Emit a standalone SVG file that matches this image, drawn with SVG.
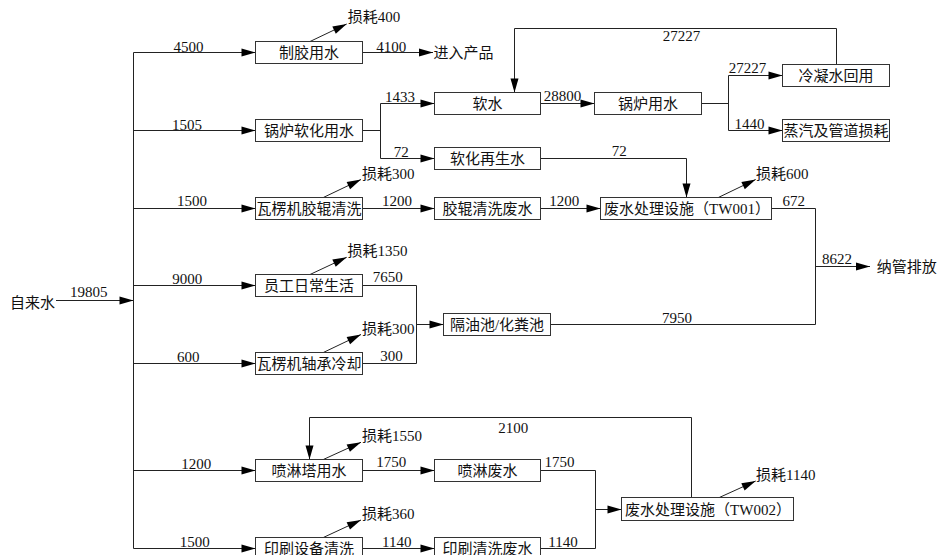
<svg xmlns="http://www.w3.org/2000/svg" width="941" height="555" viewBox="0 0 941 555">
<style>
.bg{fill:#fff}
.box{fill:#fff;stroke:#333;stroke-width:1}
.c{fill:none;stroke:#222;stroke-width:1}
.t{font-family:"Liberation Serif","Noto Sans CJK SC",serif;font-size:15px;fill:#111}
.m{text-anchor:middle}
</style>
<defs>
<marker id="ah" markerUnits="userSpaceOnUse" markerWidth="14" markerHeight="8" refX="14" refY="4" orient="auto" overflow="visible">
<path d="M0,0 L14,4 L0,8 z" fill="#000"/>
</marker>
</defs>
<rect class="bg" x="0" y="0" width="941" height="555"/>
<g id="connectors">
<path class="c" d="M56,300.5 H133.5" marker-end="url(#ah)"/>
<path class="c" d="M133.5,52.5 V548.5"/>
<path class="c" d="M133.5,52.5 H255.5" marker-end="url(#ah)"/>
<path class="c" d="M133.5,130.5 H255.5" marker-end="url(#ah)"/>
<path class="c" d="M133.5,208.5 H255.5" marker-end="url(#ah)"/>
<path class="c" d="M133.5,285.5 H255.5" marker-end="url(#ah)"/>
<path class="c" d="M133.5,363.5 H255.5" marker-end="url(#ah)"/>
<path class="c" d="M133.5,470.5 H255.5" marker-end="url(#ah)"/>
<path class="c" d="M133.5,548.5 H255.5" marker-end="url(#ah)"/>
<path class="c" d="M362.5,52.5 H433" marker-end="url(#ah)"/>
<path class="c" d="M362.5,130.5 H380.5 M380.5,103.5 V158.5"/>
<path class="c" d="M380.5,103.5 H434.5" marker-end="url(#ah)"/>
<path class="c" d="M380.5,158.5 H434.5" marker-end="url(#ah)"/>
<path class="c" d="M540.5,103.5 H594.5" marker-end="url(#ah)"/>
<path class="c" d="M701.5,103.5 H728.5 M728.5,75.5 V130.5"/>
<path class="c" d="M728.5,75.5 H782.5" marker-end="url(#ah)"/>
<path class="c" d="M728.5,130.5 H782.5" marker-end="url(#ah)"/>
<path class="c" d="M836.5,64.5 V28.5 H514.5 V92.5" marker-end="url(#ah)"/>
<path class="c" d="M540.5,158.5 H686.5 V197.5" marker-end="url(#ah)"/>
<path class="c" d="M362.5,208.5 H434.5" marker-end="url(#ah)"/>
<path class="c" d="M540.5,208.5 H600.5" marker-end="url(#ah)"/>
<path class="c" d="M771.5,208.5 H815.5 V324.5 H550.5"/>
<path class="c" d="M815.5,266.5 H870" marker-end="url(#ah)"/>
<path class="c" d="M362.5,285.5 H416.5 V363.5 H362.5"/>
<path class="c" d="M416.5,324.5 H443.5" marker-end="url(#ah)"/>
<path class="c" d="M691.5,497.5 V417.5 H309.5 V459.5" marker-end="url(#ah)"/>
<path class="c" d="M362.5,470.5 H434.5" marker-end="url(#ah)"/>
<path class="c" d="M540.5,470.5 H595.5 V548.5 H540.5"/>
<path class="c" d="M595.5,509.5 H621.5" marker-end="url(#ah)"/>
<path class="c" d="M362.5,548.5 H434.5" marker-end="url(#ah)"/>
<path class="c" d="M310,41.5 L346.7,24" marker-end="url(#ah)"/>
<path class="c" d="M323.3,197.5 L361,179.5" marker-end="url(#ah)"/>
<path class="c" d="M310,274.5 L346.7,257.3" marker-end="url(#ah)"/>
<path class="c" d="M323.3,352.5 L361,334.5" marker-end="url(#ah)"/>
<path class="c" d="M718.3,197.5 L755.7,179.5" marker-end="url(#ah)"/>
<path class="c" d="M323.3,459.5 L361,442.3" marker-end="url(#ah)"/>
<path class="c" d="M323.3,537.5 L361,520" marker-end="url(#ah)"/>
<path class="c" d="M719.3,497.5 L755.7,481" marker-end="url(#ah)"/>
</g>
<g id="flow-labels" class="t m">
<text x="88.7" y="297">19805</text>
<text x="188.5" y="51.5">4500</text>
<text x="187" y="129.5">1505</text>
<text x="192" y="206">1500</text>
<text x="187.2" y="284">9000</text>
<text x="188.3" y="362">600</text>
<text x="196.3" y="469">1200</text>
<text x="194.7" y="547">1500</text>
<text x="391.3" y="51.5">4100</text>
<text x="400" y="101.5">1433</text>
<text x="401.3" y="157">72</text>
<text x="562.5" y="101">28800</text>
<text x="747.5" y="72.5">27227</text>
<text x="749.5" y="129">1440</text>
<text x="681.5" y="40.5">27227</text>
<text x="619.3" y="156">72</text>
<text x="397" y="205.7">1200</text>
<text x="564.2" y="205.7">1200</text>
<text x="793.8" y="205.7">672</text>
<text x="837" y="264">8622</text>
<text x="677" y="322.7">7950</text>
<text x="387.8" y="281.7">7650</text>
<text x="391.5" y="361">300</text>
<text x="513.3" y="433">2100</text>
<text x="391.3" y="467.3">1750</text>
<text x="559.5" y="467.3">1750</text>
<text x="396.7" y="546.7">1140</text>
<text x="563" y="546.7">1140</text>
</g>
<g id="loss-labels" class="t">
<text x="347.7" y="22">损耗400</text>
<text x="362" y="178.5">损耗300</text>
<text x="347.5" y="256">损耗1350</text>
<text x="362" y="334">损耗300</text>
<text x="756" y="178.5">损耗600</text>
<text x="362" y="441">损耗1550</text>
<text x="362" y="519">损耗360</text>
<text x="756" y="479.5">损耗1140</text>
</g>
<g id="n-source"><text class="t" x="10" y="308">自来水</text></g>
<g id="n-product"><text class="t" x="433.5" y="58">进入产品</text></g>
<g id="n-discharge"><text class="t" x="876.7" y="272">纳管排放</text></g>
<g id="n-zhijiao"><rect class="box" x="255.5" y="41.5" width="107" height="22"/><text class="t m" x="309" y="58">制胶用水</text></g>
<g id="n-guolu-ruanhua"><rect class="box" x="255.5" y="119.5" width="107" height="22"/><text class="t m" x="309" y="136">锅炉软化用水</text></g>
<g id="n-jiaogun"><rect class="box" x="255.5" y="197.5" width="107" height="22"/><text class="t m" x="309" y="214">瓦楞机胶辊清洗</text></g>
<g id="n-yuangong"><rect class="box" x="255.5" y="274.5" width="107" height="22"/><text class="t m" x="309" y="291">员工日常生活</text></g>
<g id="n-zhoucheng"><rect class="box" x="255.5" y="352.5" width="107" height="22"/><text class="t m" x="309" y="369">瓦楞机轴承冷却</text></g>
<g id="n-penlinta"><rect class="box" x="255.5" y="459.5" width="107" height="22"/><text class="t m" x="309" y="476">喷淋塔用水</text></g>
<g id="n-yinshua"><rect class="box" x="255.5" y="537.5" width="107" height="22"/><text class="t m" x="309" y="554">印刷设备清洗</text></g>
<g id="n-ruanshui"><rect class="box" x="434.5" y="92.5" width="106" height="22"/><text class="t m" x="487.5" y="109">软水</text></g>
<g id="n-zaisheng"><rect class="box" x="434.5" y="147.5" width="106" height="22"/><text class="t m" x="487.5" y="164">软化再生水</text></g>
<g id="n-jiaogun-fs"><rect class="box" x="434.5" y="197.5" width="106" height="22"/><text class="t m" x="487.5" y="214">胶辊清洗废水</text></g>
<g id="n-geyouchi"><rect class="box" x="443.5" y="313.5" width="107" height="22"/><text class="t m" x="497" y="330">隔油池/化粪池</text></g>
<g id="n-penlin-fs"><rect class="box" x="434.5" y="459.5" width="106" height="22"/><text class="t m" x="487.5" y="476">喷淋废水</text></g>
<g id="n-yinshua-fs"><rect class="box" x="434.5" y="537.5" width="106" height="22"/><text class="t m" x="487.5" y="554">印刷清洗废水</text></g>
<g id="n-guolu"><rect class="box" x="594.5" y="92.5" width="107" height="22"/><text class="t m" x="648" y="109">锅炉用水</text></g>
<g id="n-lengning"><rect class="box" x="782.5" y="64.5" width="107" height="22"/><text class="t m" x="836" y="81">冷凝水回用</text></g>
<g id="n-zhengqi"><rect class="box" x="782.5" y="119.5" width="107" height="22"/><text class="t m" x="836" y="136">蒸汽及管道损耗</text></g>
<g id="n-tw001"><rect class="box" x="600.5" y="197.5" width="171" height="22"/><text class="t m" x="687" y="214">废水处理设施（TW001）</text></g>
<g id="n-tw002"><rect class="box" x="621.5" y="497.5" width="172" height="23"/><text class="t m" x="708" y="514.5">废水处理设施（TW002）</text></g>
</svg>
